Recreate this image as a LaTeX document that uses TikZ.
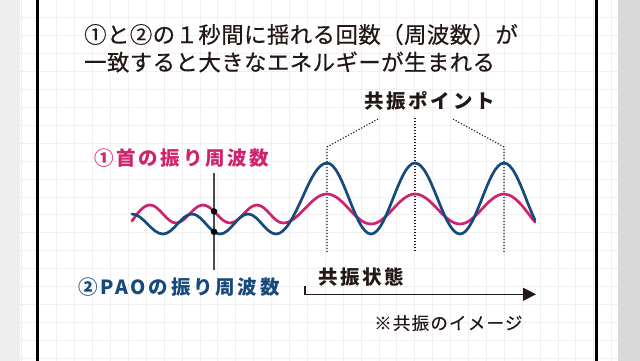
\documentclass[tikz,border=0pt]{standalone}
\usepackage{fontspec}
\usepackage{tikz}
\usetikzlibrary{arrows.meta,positioning,calc}
\newfontfamily\jp[FakeBold=0.5, LetterSpace=2]{Noto Sans CJK JP}
\newfontfamily\jpnote[FakeBold=0.3, LetterSpace=7]{Noto Sans CJK JP}
\newfontfamily\jpsp[LetterSpace=14]{Noto Sans CJK JP}
\definecolor{kubiPink}{HTML}{D0236E}
\definecolor{paoBlue}{HTML}{174A7C}
\definecolor{ink}{HTML}{231815}
\tikzset{
  ttl/.style={anchor=west, inner sep=0pt, text=ink, font=\jp\fontsize{22.4}{22.4}\selectfont},
  lbl/.style={anchor=west, inner sep=0pt, text=ink, font=\jpsp\bfseries\fontsize{19.5}{19.5}\selectfont},
  note/.style={anchor=west, inner sep=0pt, text=ink, font=\jpnote\fontsize{17.5}{17.5}\selectfont},
  wave/.style={line width=2.7pt, line join=round, line cap=round},
  guide/.style={ink, line width=1.1pt, dash pattern=on 1.2pt off 1.8pt},
  hit/.style={circle, fill=black, inner sep=0pt, minimum size=6.5pt}
}
\begin{document}
\begin{tikzpicture}[x=1pt, y=-1pt]
\useasboundingbox (0,0) rectangle (640,361);
\fill[white] (0,0) rectangle (640,361);
\fill[gray!13] (0,0) rectangle (20,361);
\fill[gray!30] (618,0) rectangle (640,361);
\foreach \k in {1,...,34}
  \draw[gray!12, line width=0.8pt] ({3+17.9*\k},0) -- ({3+17.9*\k},361);
\foreach \k in {1,...,20}
  \draw[gray!12, line width=0.8pt] (20,{17.9*\k}) -- (618,{17.9*\k});
\draw[black, line width=3pt] (37.5,0) -- (37.5,361);
\draw[black, line width=3pt] (596.5,0) -- (596.5,361);

\node[ttl] (line1) at (84,34.5) {①と②の１秒間に揺れる回数（周波数）が};
\node[ttl] (line2) at (84,62) {一致すると大きなエネルギーが生まれる};

\node[lbl] (point) at (364,101) {共振ポイント};
\coordinate (pk1) at (327,147);
\coordinate (pk2) at (415,118);
\coordinate (pk3) at (504,147);
\coordinate (ft1) at (327,252);
\coordinate (ft2) at (415,252);
\coordinate (ft3) at (504,252);
\draw[guide] (378,119) -- (pk1) -- (ft1);
\draw[guide] (pk2) -- (ft2);
\draw[guide] (453,119) -- (pk3) -- (ft3);

\draw[wave, kubiPink] (132,221) sin (150,205) cos (163,214) sin (176,223) cos (189.5,214)
  sin (203,205) cos (216.5,214) sin (230,223) cos (243.5,214) sin (257,205) cos (270,214)
  sin (283,223) cos (305,208.5) sin (327,194) cos (349,209) sin (371,224) cos (393,209)
  sin (415,194) cos (437.5,209) sin (460,224) cos (482,209) sin (504,194)
  .. controls (517,194) and (529,216) .. (535,222);
\draw[wave, paoBlue] (132,214) cos (147.5,224) sin (163,234) cos (177.5,224) sin (192,214)
  cos (206,224) sin (220,234) cos (234,224) sin (248,214) cos (262,224) sin (276,234)
  cos (302,198.5) sin (327,163) cos (349,198.5) sin (371,234) cos (393,198.5) sin (415,163)
  cos (437.5,198.5) sin (460,234) cos (482,198.5) sin (504,163) cos (526,198.5)
  .. controls (529,206.1) and (532,213.9) .. (535,220);

\coordinate (mkTop) at (214,173);
\coordinate (mkBot) at (214,270);
\draw[black!70, line width=1.1pt] (mkTop) -- (mkBot);
\node[hit] (dotKubi) at (214,211.4) {};
\node[hit] (dotPao) at (214,231.8) {};

\node[lbl, text=kubiPink] (kubi) at (94,158) {①首の振り周波数};
\node[lbl, text=paoBlue] (pao) at (78,287) {②PAOの振り周波数};

\node[lbl] (state) at (318,277) {共振状態};
\coordinate (arrS) at (305,286);
\coordinate (arrE) at (536,294.3);
\draw[ink, line width=1.3pt, -{Triangle[length=13pt, width=13pt]}] (arrS) |- (arrE);

\node[note] (memo) at (374,323) {※共振のイメージ};
\end{tikzpicture}
\end{document}
